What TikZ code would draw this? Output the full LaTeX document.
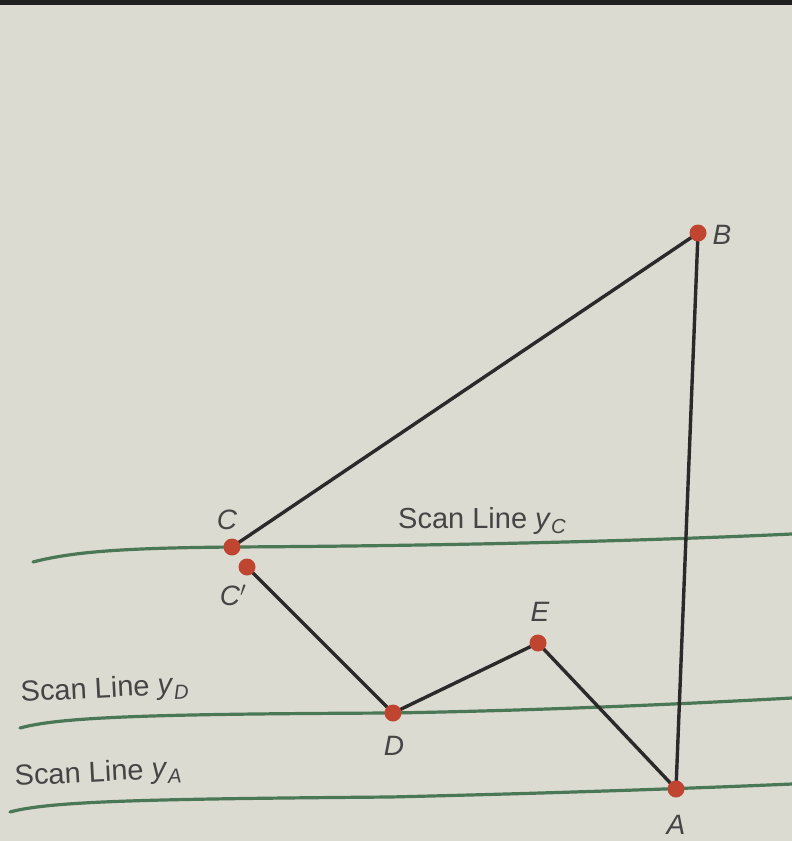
\documentclass[tikz,border=0pt]{standalone}
\usepackage{fontspec}
\setmainfont{Liberation Sans}
\definecolor{paper}{HTML}{DCDBD1}
\definecolor{topbar}{HTML}{202020}
\definecolor{ink}{HTML}{2A2A2A}
\definecolor{txt}{HTML}{454545}
\definecolor{scangreen}{HTML}{4A7755}
\definecolor{dotred}{HTML}{BF4530}
\begin{document}
\begin{tikzpicture}[x=1pt,y=-1pt,
  scan/.style={draw=scangreen, line width=3.2pt, line cap=round},
  edge/.style={draw=ink, line width=3.4pt, line cap=round},
  dot/.style={circle, fill=dotred, inner sep=0pt, minimum size=17pt},
  lbl/.style={text=txt, font=\fontsize{28}{30}\selectfont\itshape, inner sep=0pt},
  scanlbl/.style={text=txt, font=\fontsize{29}{32}\selectfont, inner sep=0pt, anchor=base west}]
\fill[paper] (0,0) rectangle (792,841);
\useasboundingbox (0,0) rectangle (792,841);
\fill[topbar] (0,0) rectangle (792,5);
% scan lines
\draw[scan] (33,562) .. controls (75,551) and (130,548) .. (232,547) .. controls (420,546) and (620,542) .. (792,534);
\draw[scan] (20,728) .. controls (60,717) and (150,714) .. (393,713) .. controls (560,710) and (700,703) .. (792,698);
\draw[scan] (10,812) .. controls (50,801) and (150,799) .. (390,797) .. controls (560,793) and (700,788) .. (792,784);
% vertices
\coordinate (pA) at (676,789);
\coordinate (pB) at (698,233);
\coordinate (pC) at (232,547);
\coordinate (pCp) at (247,567);
\coordinate (pD) at (393,713);
\coordinate (pE) at (538,643);
% edges
\draw[edge] (pC) -- (pB);
\draw[edge] (pB) -- (pA);
\draw[edge] (pCp) -- (pD);
\draw[edge] (pD) -- (pE);
\draw[edge] (pE) -- (pA);
% dots
\node[dot] (A) at (pA) {};
\node[dot] (B) at (pB) {};
\node[dot] (C) at (pC) {};
\node[dot] (Cp) at (pCp) {};
\node[dot] (D) at (pD) {};
\node[dot] (E) at (pE) {};
% labels
\node[lbl] (lB) at (722,235) {B};
\node[lbl] (lC) at (227,520) {C};
\node[lbl] (lCp) at (233,595) {C$'$};
\node[lbl] (lE) at (540,612) {E};
\node[lbl] (lD) at (394,746) {D};
\node[lbl] (lA) at (676,825) {A};
\node[scanlbl] (sC) at (398,528) {Scan Line \textit{y}\textsubscript{\textit{C}}};
\node[scanlbl, rotate=3] (sD) at (21,702) {Scan Line \textit{y}\textsubscript{\textit{D}}};
\node[scanlbl, rotate=3] (sA) at (15,786) {Scan Line \textit{y}\textsubscript{\textit{A}}};
\end{tikzpicture}
\end{document}
